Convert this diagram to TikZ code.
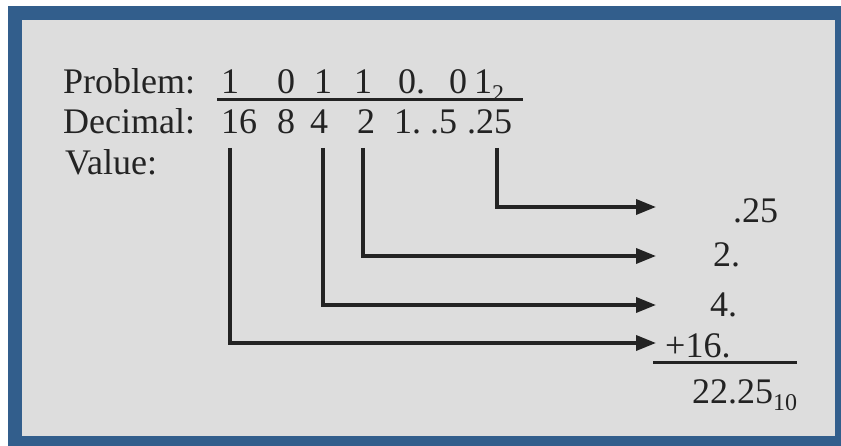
\documentclass[tikz,border=0pt]{standalone}
\usepackage{fontspec}
\setmainfont{Liberation Serif}
\newfontfamily\timesfont{Liberation Serif}
\usetikzlibrary{arrows.meta}
\definecolor{frameblue}{RGB}{50,94,140}
\definecolor{panelgray}{RGB}{221,221,221}
\definecolor{ink}{RGB}{35,35,35}
\newcommand\mysubs[1]{\raisebox{-0.22em}{\fontsize{24}{24}\selectfont #1}}
\begin{document}
\begin{tikzpicture}[x=1pt,y=-1pt,
  txt/.style={anchor=base west, inner sep=0pt, text=ink, font=\timesfont\fontsize{36}{40}\selectfont},
  conn/.style={draw=ink, line width=3.5pt, line join=miter, -{Triangle[length=20pt,width=15pt]}},
  rulebar/.style={draw=ink, line width=3pt}]
\useasboundingbox (0,0) rectangle (841,446);
\fill[white] (0,0) rectangle (841,446);
\fill[frameblue] (8,6) rectangle (841,446);
\fill[panelgray] (22,20) rectangle (835,436);
% labels
\node[txt] (prob) at (63,94) {Problem:};
\node[txt] (dec) at (63,134) {Decimal:};
\node[txt] (val) at (65,175) {Value:};
% problem digits
\node[txt] (p1) at (221,94) {1};
\node[txt] (p2) at (277,94) {0};
\node[txt] (p3) at (314,94) {1};
\node[txt] (p4) at (354,94) {1};
\node[txt] (p5) at (398,94) {0.};
\node[txt] (p6) at (449,94) {0};
\node[txt] (p7) at (474,94) {1\mysubs{2}};
\coordinate (ulA) at (217,100);
\coordinate (ulB) at (523,100);
\draw[rulebar] (ulA) -- (ulB);
% decimal values
\node[txt] (d1) at (221,134) {16};
\node[txt] (d2) at (277,134) {8};
\node[txt] (d3) at (310,134) {4};
\node[txt] (d4) at (357,134) {2};
\node[txt] (d5) at (394,134) {1.};
\node[txt] (d6) at (430,134) {.5};
\node[txt] (d7) at (467,134) {.25};
% results
\node[txt] (r1) at (733,223) {.25};
\node[txt] (r2) at (713,267) {2.};
\node[txt] (r3) at (710,317) {4.};
\node[txt] (r4) at (665,358) {+16.};
\node[txt] (sum) at (692,403) {22.25\mysubs{10}};
\coordinate (slA) at (653,363);
\coordinate (slB) at (797,363);
\draw[rulebar] (slA) -- (slB);
% connectors
\coordinate (s1) at (497,148);
\coordinate (s2) at (363,148);
\coordinate (s3) at (323,148);
\coordinate (s4) at (230,148);
\coordinate (e1) at (656,207);
\coordinate (e2) at (656,256);
\coordinate (e3) at (656,305);
\coordinate (e4) at (656,343);
\draw[conn] (s1) |- (e1);
\draw[conn] (s2) |- (e2);
\draw[conn] (s3) |- (e3);
\draw[conn] (s4) |- (e4);
\end{tikzpicture}
\end{document}
